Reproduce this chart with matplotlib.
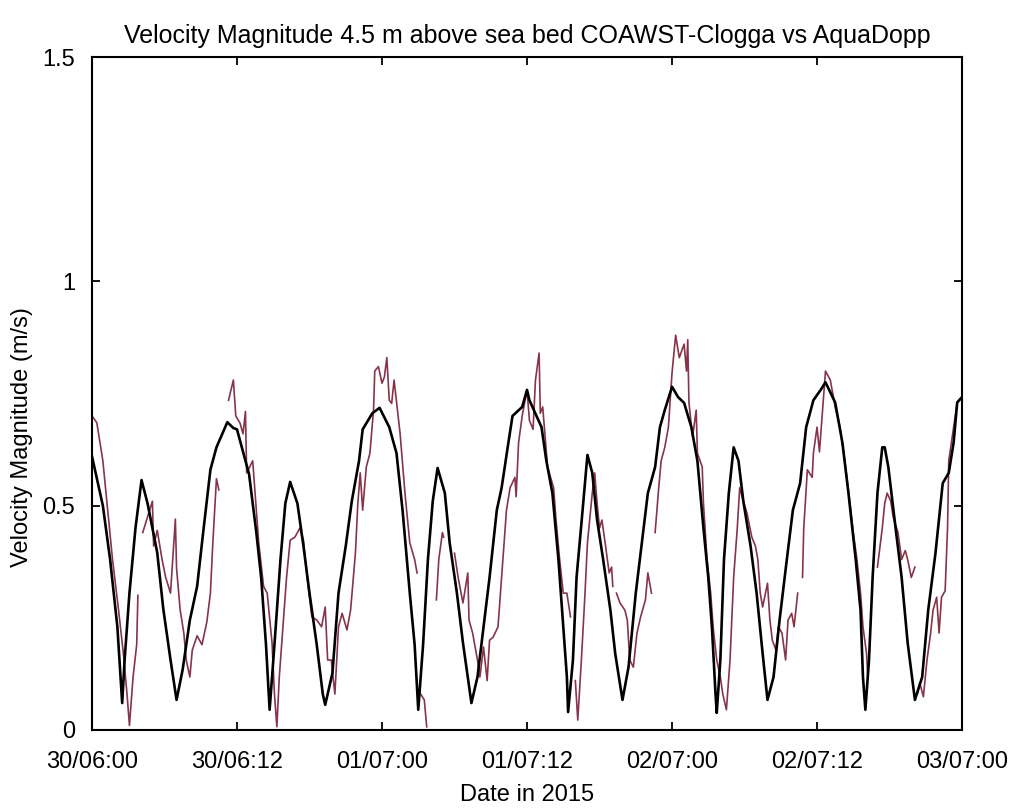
"""Velocity magnitude 4.5 m above sea bed: COAWST-Clogga model vs AquaDopp."""
import numpy as np
import matplotlib
matplotlib.use('Agg')
import matplotlib.pyplot as plt
from datetime import datetime, timedelta

START = datetime(2015, 6, 30, 0, 0)

# model (black), hours after 30/06 00:00
model_hours = [0.0, 0.9, 1.5, 2.1, 2.5, 2.7, 3.1, 3.6, 4.1, 4.6,
               5.4, 5.9, 6.5, 7.0, 7.5, 8.1, 8.7, 9.2, 9.8, 10.3,
               11.2, 11.7, 12.0, 13.0, 13.6, 14.0, 14.4, 14.7, 15.1, 15.6,
               16.0, 16.4, 17.0, 17.5, 18.0, 18.6, 19.1, 19.3, 19.9, 20.4,
               21.0, 21.5, 22.1, 22.4, 23.2, 23.8, 24.6, 25.2, 25.7, 26.3,
               26.7, 27.0, 27.4, 27.8, 28.2, 28.6, 29.2, 29.6, 30.2, 30.7,
               31.4, 31.9, 32.4, 32.9, 33.5, 33.9, 34.4, 34.8, 35.6, 36.0,
               36.2, 37.2, 37.6, 38.1, 38.6, 39.0, 39.3, 39.4, 39.8, 40.1,
               40.6, 41.0, 41.4, 41.8, 42.3, 42.9, 43.3, 43.9, 44.4, 45.0,
               45.5, 46.0, 46.6, 47.0, 47.4, 48.0, 48.5, 49.0, 49.6, 50.1,
               50.6, 51.0, 51.3, 51.6, 51.7, 52.0, 52.3, 52.7, 53.1, 53.5,
               53.9, 54.5, 55.0, 55.5, 55.9, 56.4, 56.9, 57.5, 58.0, 58.6,
               59.1, 59.7, 60.3, 60.7, 61.5, 62.1, 62.6, 63.2, 63.6, 63.8,
               64.0, 64.3, 64.6, 65.0, 65.4, 65.6, 65.9, 66.5, 67.0, 67.5,
               68.1, 68.7, 69.2, 69.8, 70.4, 70.9, 71.3, 71.6, 72.0]
model_speed = [0.61, 0.50, 0.38, 0.23, 0.06, 0.156, 0.305, 0.45, 0.557, 0.505,
               0.395, 0.27, 0.156, 0.067, 0.134, 0.245, 0.32, 0.44, 0.58, 0.63,
               0.686, 0.673, 0.67, 0.57, 0.44, 0.34, 0.19, 0.045, 0.19, 0.38,
               0.505, 0.553, 0.505, 0.41, 0.305, 0.19, 0.08, 0.056, 0.127, 0.305,
               0.41, 0.51, 0.60, 0.67, 0.706, 0.718, 0.675, 0.617, 0.49, 0.305,
               0.19, 0.045, 0.19, 0.38, 0.51, 0.584, 0.528, 0.417, 0.305, 0.194,
               0.06, 0.118, 0.23, 0.34, 0.49, 0.54, 0.63, 0.70, 0.72, 0.758,
               0.735, 0.675, 0.60, 0.528, 0.38, 0.23, 0.118, 0.04, 0.156, 0.34,
               0.49, 0.613, 0.573, 0.468, 0.38, 0.267, 0.17, 0.067, 0.14, 0.305,
               0.417, 0.528, 0.586, 0.675, 0.713, 0.765, 0.742, 0.729, 0.675, 0.60,
               0.45, 0.34, 0.23, 0.08, 0.038, 0.156, 0.38, 0.528, 0.63, 0.60,
               0.51, 0.41, 0.305, 0.17, 0.067, 0.118, 0.245, 0.38, 0.49, 0.55,
               0.675, 0.735, 0.758, 0.775, 0.73, 0.64, 0.528, 0.38, 0.267, 0.118,
               0.045, 0.156, 0.34, 0.528, 0.63, 0.63, 0.586, 0.45, 0.34, 0.194,
               0.067, 0.118, 0.267, 0.394, 0.55, 0.573, 0.64, 0.73, 0.742]

# AquaDopp observations (red), NaN = gap in record
nan = np.nan
obs_hours = [0.0, 0.4, 0.9, 1.3, 1.7, 2.2, 2.6, 2.9, 3.1, 3.4, 3.7, 3.8, 3.9,
             4.2, 4.6, 5.0, 5.1, 5.4, 5.8, 6.1, 6.5, 6.9, 7.0, 7.3, 7.6, 7.8,
             8.1, 8.3, 8.7, 9.1, 9.5, 9.8, 10.0, 10.3, 10.5, 10.6,
             11.3, 11.7, 11.9, 12.25, 12.5, 12.7, 12.8, 13.3, 13.8, 14.2, 14.5,
             14.9, 15.1, 15.3, 15.5, 15.8, 16.1, 16.4, 16.8, 17.2, 17.5, 17.8,
             18.2, 18.6, 19.0, 19.3, 19.5, 19.8, 20.1, 20.4, 20.7, 21.1, 21.4,
             21.8, 22.0, 22.2, 22.4, 22.7, 23.0, 23.3, 23.4, 23.7, 24.0, 24.2,
             24.4, 24.6, 24.8, 25.0, 25.5, 25.9, 26.3, 26.7, 26.9, 27.0,
             27.2, 27.5, 27.7, 27.8, 28.5, 28.7, 29.0, 29.1, 29.2,
             30.0, 30.3, 30.7, 31.1, 31.2, 31.5, 31.9, 32.1, 32.4, 32.7, 32.9,
             33.2, 33.6, 33.8, 34.0, 34.3, 34.6, 35.0, 35.1, 35.3, 35.6, 36.0,
             36.2, 36.5, 36.7, 37.0, 37.1, 37.3, 37.7, 38.2, 38.4, 38.7, 39.0,
             39.3, 39.6, 39.7, 40.0, 40.2, 40.5, 40.8, 41.0, 41.4, 41.6, 41.8,
             42.0, 42.2, 42.5, 42.8, 43.0, 43.1, 43.2, 43.4, 43.7, 44.1, 44.3,
             44.5, 44.8, 45.1, 45.4, 45.8, 46.0, 46.3, 46.4, 46.6, 46.9, 47.1,
             47.4, 47.7, 48.0, 48.3, 48.6, 49.0, 49.2, 49.3, 49.4, 49.7, 50.0,
             50.1, 50.5, 50.6, 50.9, 51.2, 51.4, 51.7, 52.0, 52.2, 52.5, 52.8,
             53.1, 53.4, 53.6, 53.9, 54.2, 54.6, 54.9, 55.1, 55.3, 55.5, 55.9,
             56.1, 56.3, 56.6, 56.8, 57.1, 57.4, 57.6, 57.9, 58.1, 58.4, 58.5,
             58.8, 58.9, 59.2, 59.6, 59.7, 60.0, 60.2, 60.7, 61.1, 61.5, 61.9,
             62.3, 62.7, 63.0, 63.3, 63.6, 63.8, 64.1, 64.2, 64.3,
             65.0, 65.4, 65.6, 65.8, 66.1, 66.3, 66.7, 67.0, 67.3, 67.5, 67.8,
             68.1, 68.2, 68.3, 68.5, 68.8, 69.1, 69.4, 69.6, 69.9, 70.1, 70.3,
             70.6, 70.8, 70.9, 71.3, 71.6, 71.9]
obs_speed = [0.70, 0.685, 0.60, 0.49, 0.38, 0.267, 0.17, 0.08, 0.01, 0.118, 0.19, 0.30, nan,
             0.44, 0.475, 0.51, 0.41, 0.445, 0.38, 0.34, 0.305, 0.47, 0.36, 0.267, 0.216, 0.156,
             0.118, 0.178, 0.21, 0.19, 0.24, 0.305, 0.417, 0.56, 0.535, nan,
             0.735, 0.78, 0.70, 0.684, 0.66, 0.71, 0.573, 0.60, 0.417, 0.32, 0.305,
             0.194, 0.08, 0.007, 0.118, 0.23, 0.34, 0.423, 0.43, 0.45, 0.423, 0.34,
             0.252, 0.245, 0.23, 0.274, 0.156, 0.156, 0.08, 0.23, 0.26, 0.223, 0.267,
             0.394, 0.505, 0.573, 0.49, 0.586, 0.617, 0.713, 0.80, 0.81, 0.773, 0.787,
             0.83, 0.735, 0.728, 0.78, 0.66, 0.528, 0.417, 0.38, 0.35, nan,
             0.08, 0.067, 0.007, nan, 0.29, 0.38, 0.44, 0.43, nan,
             0.394, 0.34, 0.283, 0.35, 0.245, 0.216, 0.156, 0.118, 0.185, 0.11, 0.20,
             0.207, 0.23, 0.305, 0.38, 0.49, 0.54, 0.563, 0.52, 0.64, 0.70, 0.758,
             0.69, 0.67, 0.78, 0.84, 0.706, 0.72, 0.586, 0.54, 0.468, 0.38, 0.305,
             0.305, 0.252, nan, 0.11, 0.022, 0.156, 0.305, 0.417, 0.528, 0.573, 0.505,
             0.45, 0.468, 0.41, 0.35, 0.363, 0.32, nan, 0.305, 0.283, 0.267, 0.245,
             0.156, 0.14, 0.216, 0.252, 0.29, 0.35, 0.305, nan, 0.44, 0.54, 0.60,
             0.63, 0.675, 0.796, 0.88, 0.83, 0.86, 0.80, 0.87, 0.73, 0.653, 0.713,
             0.617, 0.586, 0.505, 0.38, 0.305, 0.23, 0.156, 0.118, 0.08, 0.045, 0.156,
             0.34, 0.45, 0.54, 0.51, 0.484, 0.43, 0.41, 0.38, 0.305, 0.274, 0.327,
             0.245, 0.20, 0.178, 0.23, 0.216, 0.156, 0.245, 0.26, 0.23, 0.305, nan,
             0.34, 0.45, 0.58, 0.563, 0.617, 0.675, 0.62, 0.80, 0.78, 0.72, 0.675,
             0.60, 0.51, 0.44, 0.38, 0.305, 0.23, 0.17, 0.118, nan,
             0.363, 0.45, 0.505, 0.528, 0.51, 0.475, 0.44, 0.38, 0.40, 0.38, 0.34,
             0.363, nan, 0.08, 0.105, 0.074, 0.156, 0.216, 0.267, 0.296, 0.216, 0.296,
             0.31, 0.45, 0.60, 0.675, 0.73, 0.74]

tick_labels = ['30/06:00', '30/06:12', '01/07:00', '01/07:12',
               '02/07:00', '02/07:12', '03/07:00']
tick_hours = [0, 12, 24, 36, 48, 60, 72]


def to_dates(hours):
    return [START + timedelta(hours=h) for h in hours]


plt.rcParams['font.family'] = ['Liberation Sans', 'DejaVu Sans']

fig = plt.figure(figsize=(10.13, 8.09), dpi=100)
ax = fig.add_axes([0.0908, 0.0977, 0.8589, 0.8318])

ax.plot(to_dates(obs_hours), obs_speed, color='#87344a', lw=1.2)
ax.plot(to_dates(model_hours), model_speed, color='black', lw=1.9)

ax.set_xlim(START, START + timedelta(hours=72))
ax.set_ylim(0, 1.5)
ax.set_xticks(to_dates(tick_hours))
ax.set_xticklabels(tick_labels)
ax.set_yticks([0, 0.5, 1, 1.5])
ax.set_yticklabels(['0', '0.5', '1', '1.5'])

ax.tick_params(direction='in', length=6, width=1.3, top=True, right=True,
               labelsize=17)
ax.tick_params(axis='x', pad=15)
ax.tick_params(axis='y', pad=12)
for s in ax.spines.values():
    s.set_linewidth(1.5)

ax.set_title('Velocity Magnitude 4.5 m above sea bed COAWST-Clogga vs AquaDopp',
             fontsize=18, pad=10)
ax.set_xlabel('Date in 2015', fontsize=17, labelpad=8)
ax.set_ylabel('Velocity Magnitude (m/s)', fontsize=17)
ax.yaxis.set_label_coords(-0.068, 0.435)

fig.savefig('out.png', dpi=100)
plt.close(fig)
